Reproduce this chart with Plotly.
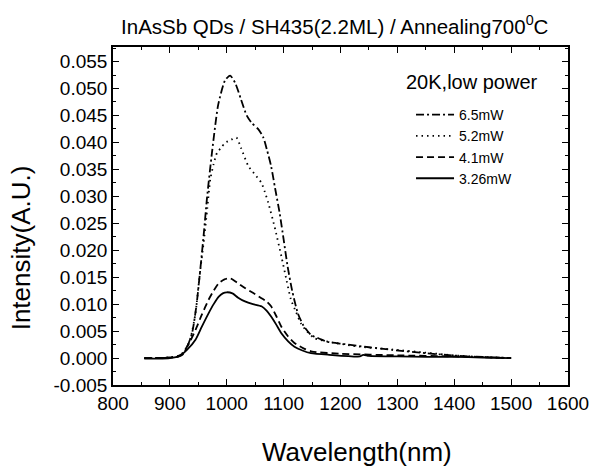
import plotly.graph_objects as go

# ---- data ----
wl_65 = [855, 880, 900, 915, 922, 930, 939, 947, 954, 960, 965, 974, 985, 997, 1006, 1015, 1025,
         1035, 1044, 1055, 1064, 1071, 1078, 1085, 1093, 1100, 1107, 1115, 1125, 1135, 1148, 1165,
         1177, 1206, 1250, 1292, 1350, 1408, 1450, 1500]
int_65 = [0.0000, 0.0000, 0.0001, 0.0003, 0.0006, 0.0020, 0.0046, 0.0100, 0.0170, 0.0235, 0.0294,
          0.0381, 0.0470, 0.0515, 0.0524, 0.0510, 0.0480, 0.0450, 0.0436, 0.0425, 0.0410, 0.0385,
          0.0356, 0.0315, 0.0269, 0.0220, 0.0170, 0.0125, 0.0083, 0.0060, 0.0043, 0.0035, 0.0030,
          0.0026, 0.0020, 0.0015, 0.0009, 0.0004, 0.0002, 0.0000]

wl_52 = [855, 900, 915, 928, 937, 945, 952, 960, 966, 971, 977, 983, 990, 997, 1008, 1017, 1025,
         1038, 1050, 1061, 1067, 1073, 1084, 1096, 1105, 1113, 1122, 1130, 1142, 1154, 1180, 1234,
         1290, 1350, 1400, 1450, 1500]
int_52 = [0.0000, 0.0001, 0.0004, 0.0015, 0.0040, 0.0083, 0.0150, 0.0220, 0.0280, 0.0331, 0.0360,
          0.0381, 0.0390, 0.0399, 0.0405, 0.0409, 0.0390, 0.0356, 0.0340, 0.0325, 0.0308, 0.0288,
          0.0244, 0.0189, 0.0145, 0.0108, 0.0085, 0.0065, 0.0048, 0.0037, 0.0030, 0.0021, 0.0016,
          0.0010, 0.0005, 0.0002, 0.0000]

wl_41 = [855, 900, 915, 922, 935, 945, 956, 968, 977, 986, 996, 1006, 1018, 1032, 1046, 1061, 1070,
         1078, 1087, 1096, 1108, 1119, 1135, 1150, 1200, 1300, 1400, 1500]
int_41 = [0.0000, 0.0001, 0.0004, 0.0008, 0.0030, 0.0052, 0.0080, 0.0108, 0.0125, 0.0139, 0.0146,
          0.0148, 0.0140, 0.0130, 0.0121, 0.0111, 0.0105, 0.0096, 0.0078, 0.0058, 0.0040, 0.0028,
          0.0018, 0.0012, 0.0008, 0.0005, 0.0003, 0.0000]

wl_326 = [855, 880, 900, 916, 930, 945, 956, 968, 977, 986, 993, 1000, 1010, 1020, 1032, 1046, 1061,
          1070, 1078, 1087, 1096, 1108, 1119, 1133, 1148, 1180, 1234, 1240, 1250, 1300, 1350, 1400,
          1450, 1500]
int_326 = [-0.0001, -0.0001, 0.0000, 0.0003, 0.0015, 0.0034, 0.0058, 0.0083, 0.0100, 0.0114, 0.0120,
           0.0122, 0.0120, 0.0112, 0.0105, 0.0100, 0.0096, 0.0088, 0.0077, 0.0062, 0.0046, 0.0031,
           0.0021, 0.0014, 0.0009, 0.0006, 0.0003, 0.0006, 0.0004, 0.0003, 0.0002, 0.0002, 0.0001,
           0.0000]

series_names = ["6.5mW", "5.2mW", "4.1mW", "3.26mW"]
x_ticks = [800, 900, 1000, 1100, 1200, 1300, 1400, 1500, 1600]
y_ticks = [-0.005, 0.000, 0.005, 0.010, 0.015, 0.020, 0.025, 0.030, 0.035, 0.040, 0.045, 0.050, 0.055]
y_ticklabels = ["-0.005", "0.000", "0.005", "0.010", "0.015", "0.020", "0.025", "0.030",
                "0.035", "0.040", "0.045", "0.050", "0.055"]

FONT = "Liberation Sans, Arial, sans-serif"

fig = go.Figure()
styles = ["8px,3px,2px,3px", "1.5px,4px", "7px,4px", "solid"]
for name, xs, ys, dash in zip(series_names, [wl_65, wl_52, wl_41, wl_326],
                              [int_65, int_52, int_41, int_326], styles):
    fig.add_trace(go.Scatter(x=xs, y=ys, mode="lines", name=name,
                             line=dict(color="black", width=1.8, dash=dash, shape="spline",
                                       smoothing=0.6)))

axis_common = dict(showline=True, linecolor="black", linewidth=1.6, mirror="ticks",
                   ticks="inside", ticklen=6, tickwidth=1.2, tickcolor="black",
                   showgrid=False, zeroline=False,
                   tickfont=dict(family=FONT, size=19, color="black"))

fig.update_xaxes(range=[800, 1600], tickvals=x_ticks,
                 minor=dict(ticks="inside", ticklen=3, tickwidth=1.2, tickcolor="black", dtick=50,
                            showgrid=False),
                 **axis_common)
fig.update_yaxes(range=[-0.005, 0.0577], tickvals=y_ticks, ticktext=y_ticklabels,
                 minor=dict(ticks="inside", ticklen=3, tickwidth=1.2, tickcolor="black",
                            tick0=-0.005, dtick=0.0025, showgrid=False),
                 **axis_common)

fig.update_layout(
    width=601, height=471,
    margin=dict(l=113, r=27, t=47, b=86),
    paper_bgcolor="white", plot_bgcolor="white",
    font=dict(family=FONT, color="black"),
    title=dict(text="InAsSb QDs / SH435(2.2ML) / Annealing700<sup>0</sup>C",
               font=dict(family=FONT, size=20.5, color="black"),
               x=0.557, xanchor="center", y=0.943, yanchor="middle"),
    showlegend=True,
    legend=dict(x=0.655, y=0.846, xanchor="left", yanchor="top",
                font=dict(family=FONT, size=14, color="black"),
                bgcolor="rgba(0,0,0,0)", tracegroupgap=0, itemwidth=38),
    annotations=[
        dict(text="20K,low power", xref="paper", yref="paper",
             x=0.79, y=0.895, xanchor="center", yanchor="middle", showarrow=False,
             font=dict(family=FONT, size=20, color="black")),
        dict(text="Wavelength(nm)", xref="paper", yref="paper",
             x=0.536, y=-0.198, xanchor="center", yanchor="middle", showarrow=False,
             font=dict(family=FONT, size=26, color="black")),
        dict(text="Intensity(A.U.)", xref="paper", yref="paper", textangle=-90,
             x=-0.2017, y=0.405, xanchor="center", yanchor="middle", showarrow=False,
             font=dict(family=FONT, size=26, color="black")),
    ],
)

fig.write_html("out.html")
